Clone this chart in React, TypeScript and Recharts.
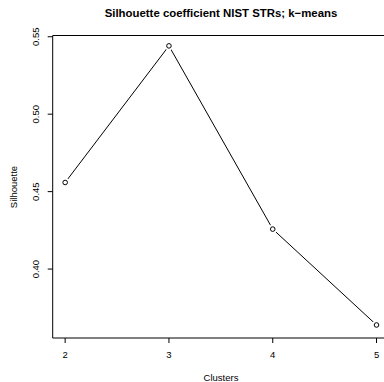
import React from 'react';
import { LineChart, Line, XAxis, YAxis, ReferenceLine } from 'recharts';

// k-means silhouette per cluster count
const clusters = [2, 3, 4, 5];
const silhouette = [0.4559, 0.5441, 0.4258, 0.3639];
const xTicks = [2, 3, 4, 5];
const yTicks = [0.4, 0.45, 0.5, 0.55];

const X_DOMAIN: [number, number] = [1.88, 5.072];
const Y_DOMAIN: [number, number] = [0.3555, 0.5508];

const FONT = '"Liberation Sans", Arial, Helvetica, sans-serif';

const data = clusters.map((k, i) => ({ k, s: silhouette[i] }));

const XTick = (props: any) => {
  const { x, y, payload } = props;
  return (
    <text x={x} y={y + 9} textAnchor="middle" dominantBaseline="central" fontSize={9.5} fill="#000" fontFamily={FONT}>
      {payload.value}
    </text>
  );
};

const YTick = (props: any) => {
  const { x, y, payload } = props;
  const cx = x - 10.5;
  return (
    <text
      x={cx}
      y={y}
      textAnchor="middle"
      dominantBaseline="central"
      fontSize={9.5}
      fill="#000"
      fontFamily={FONT}
      transform={`rotate(-90 ${cx} ${y})`}
    >
      {payload.value.toFixed(2)}
    </text>
  );
};

// open circle with a white gap round it, like R's type="b"
const OpenDot = (props: any) => {
  const { cx, cy } = props;
  return (
    <g>
      <circle cx={cx} cy={cy} r={4.5} fill="#fff" stroke="none" />
      <circle cx={cx} cy={cy} r={2.3} fill="none" stroke="#000" strokeWidth={1} />
    </g>
  );
};

export default function App() {
  return (
    <div style={{ position: 'absolute', left: 0, top: 0, width: 384, height: 382, background: '#fff' }}>
      <LineChart width={384} height={382} data={data} margin={{ top: 35.5, right: 0, bottom: 0, left: 0 }}>
        <XAxis
          dataKey="k"
          type="number"
          domain={X_DOMAIN}
          ticks={xTicks}
          allowDataOverflow
          height={44}
          tickSize={5}
          tickLine={{ stroke: '#000' }}
          axisLine={{ stroke: '#000' }}
          tick={<XTick />}
        />
        <YAxis
          type="number"
          domain={Y_DOMAIN}
          ticks={yTicks}
          allowDataOverflow
          width={52.7}
          tickSize={5}
          tickLine={{ stroke: '#000' }}
          axisLine={{ stroke: '#000' }}
          tick={<YTick />}
        />
        <ReferenceLine y={Y_DOMAIN[1]} stroke="#000" strokeWidth={1} />
        <Line
          dataKey="s"
          stroke="#000"
          strokeWidth={1}
          dot={<OpenDot />}
          activeDot={false}
          isAnimationActive={false}
        />
        <text x={221} y={13} textAnchor="middle" dominantBaseline="central" fontSize={11.4} fontWeight="bold" fontFamily={FONT} fill="#000">
          Silhouette coefficient NIST STRs; k−means
        </text>
        <text x={221} y={377.5} textAnchor="middle" dominantBaseline="central" fontSize={9.5} fontFamily={FONT} fill="#000">
          Clusters
        </text>
        <text
          x={13}
          y={187}
          textAnchor="middle"
          dominantBaseline="central"
          fontSize={9.5}
          fontFamily={FONT}
          fill="#000"
          transform="rotate(-90 13 187)"
        >
          Silhouette
        </text>
      </LineChart>
    </div>
  );
}
